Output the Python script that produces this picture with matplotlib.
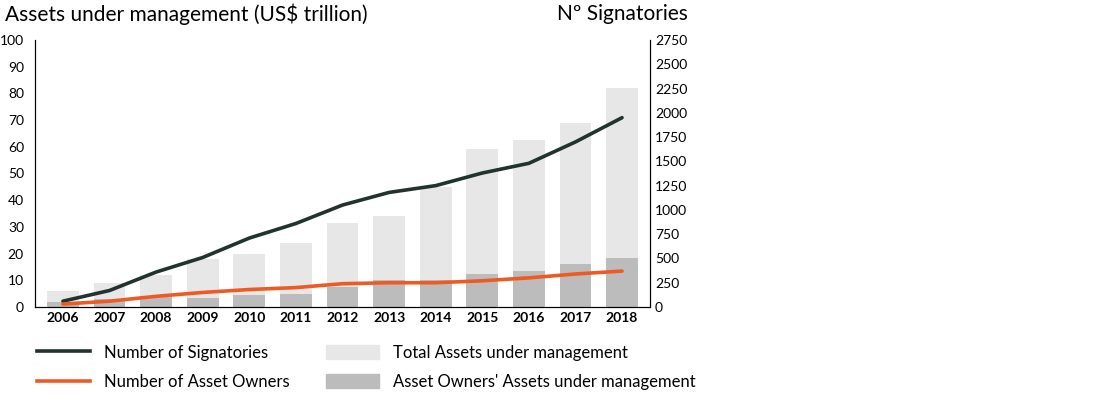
import numpy as np
import matplotlib.pyplot as plt
from matplotlib.lines import Line2D
from matplotlib.patches import Patch

plt.rcParams['font.family'] = ['Lato', 'DejaVu Sans']

years = ['2006', '2007', '2008', '2009', '2010', '2011', '2012', '2013', '2014', '2015', '2016', '2017', '2018']
total_aum = [6, 9, 12, 18, 20, 24, 31.5, 34, 45, 59, 62.5, 69, 82]
owner_aum = [2, 3, 4, 3.5, 4.5, 5, 7.5, 10, 10, 12.5, 13.5, 16, 18.5]
signatories = [60, 170, 360, 510, 710, 860, 1050, 1180, 1250, 1380, 1480, 1700, 1950]
asset_owners = [30, 60, 110, 150, 180, 200, 240, 250, 250, 270, 300, 340, 370]

fig = plt.figure(figsize=(11.2, 4.01), dpi=100)
ax = fig.add_axes([35/1120, 94/401, 615/1120, 267/401])
x = np.arange(len(years))
ax.bar(x, total_aum, width=0.68, color='#e6e7e6', zorder=1)
ax.bar(x, owner_aum, width=0.68, color='#bcbcbc', zorder=2)
ax.set_ylim(0, 100)
ax.set_yticks(range(0, 101, 10))
ax.set_xlim(-0.6, len(years) - 0.4)
ax.set_xticks(x)
ax.set_xticklabels(years, fontweight='bold')
ax.tick_params(length=0, labelsize=10)
ax.tick_params(axis='y', pad=8)
ax.spines['top'].set_visible(False)

ax2 = ax.twinx()
ax2.plot(x, signatories, color='#22332f', lw=2.6, solid_capstyle='round', zorder=5)
ax2.plot(x, asset_owners, color='#ee5a24', lw=2.6, solid_capstyle='round', zorder=5)
ax2.set_ylim(0, 2750)
ax2.set_yticks(range(0, 2751, 250))
ax2.tick_params(length=0, labelsize=10)
ax2.spines['top'].set_visible(False)

fig.text(5/1120, 1 - 14/401, 'Assets under management (US$ trillion)', fontsize=15, va='center')
fig.text(688/1120, 1 - 14/401, 'Nº Signatories', fontsize=15, va='center', ha='right')

handles = [Line2D([], [], color='#22332f', lw=2.6),
           Line2D([], [], color='#ee5a24', lw=2.6),
           Patch(color='#e6e7e6'),
           Patch(color='#bcbcbc')]
labels = ['Number of Signatories', 'Number of Asset Owners',
          'Total Assets under management', "Asset Owners' Assets under management"]
fig.legend(handles, labels, loc='lower left', bbox_to_anchor=(22/1120, -0.01), ncol=2,
           frameon=False, fontsize=12, handlelength=3.2, columnspacing=2.2,
           handleheight=0.9, labelspacing=0.8)

fig.savefig('out.png', dpi=100)
